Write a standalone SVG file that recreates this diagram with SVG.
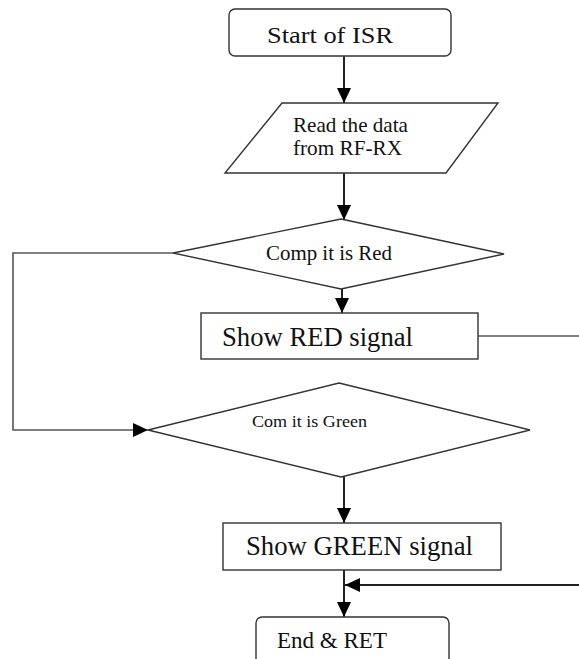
<svg xmlns="http://www.w3.org/2000/svg" width="579" height="659" viewBox="0 0 579 659">
<defs>
<marker id="ah" markerUnits="userSpaceOnUse" markerWidth="16" markerHeight="14" refX="15" refY="7" orient="auto">
<path d="M0,0 L15,7 L0,14 z" fill="#000"/>
</marker>
<style>
.shape{fill:#fff;stroke:#333;stroke-width:1.4}
.conn{fill:none;stroke:#222;stroke-width:2}
.thin{fill:none;stroke:#555;stroke-width:1.6}
text{font-family:"Liberation Serif","Times New Roman",serif;fill:#111}
</style>
</defs>
<rect width="579" height="659" fill="#fff"/>
<g id="connectors">
<line class="conn" x1="344" y1="56" x2="344" y2="103" marker-end="url(#ah)"/>
<line class="conn" x1="344" y1="173" x2="344" y2="220" marker-end="url(#ah)"/>
<line class="conn" x1="342" y1="289" x2="342" y2="313" marker-end="url(#ah)"/>
<polyline class="thin" points="173,253 13,253 13,430 148,430" marker-end="url(#ah)"/>
<line class="thin" x1="478" y1="336" x2="579" y2="336"/>
<line class="conn" x1="344" y1="477" x2="344" y2="523" marker-end="url(#ah)"/>
<line class="conn" x1="344" y1="570" x2="344" y2="617" marker-end="url(#ah)"/>
<line class="conn" x1="579" y1="585" x2="345" y2="585" marker-end="url(#ah)"/>
</g>
<g id="start">
<rect class="shape" x="229" y="9" width="222" height="47" rx="6"/>
<text x="267" y="43" font-size="24" textLength="126" lengthAdjust="spacingAndGlyphs">Start of ISR</text>
</g>
<g id="read">
<polygon class="shape" points="282,103 498,103 446,173 225,173"/>
<text x="293" y="132" font-size="21" textLength="115" lengthAdjust="spacingAndGlyphs">Read the data</text>
<text x="293" y="155" font-size="21" textLength="109" lengthAdjust="spacingAndGlyphs">from RF-RX</text>
</g>
<g id="compRed">
<polygon class="shape" points="341,219 504,254 341,289 173,253"/>
<text x="266" y="260" font-size="20" textLength="126" lengthAdjust="spacingAndGlyphs">Comp it is Red</text>
</g>
<g id="showRed">
<rect class="shape" x="201" y="313" width="277" height="46"/>
<text x="222" y="346" font-size="27" textLength="191" lengthAdjust="spacingAndGlyphs">Show RED signal</text>
</g>
<g id="compGreen">
<polygon class="shape" points="339,383 530,430 341,477 148,430"/>
<text x="252" y="427" font-size="17" textLength="115" lengthAdjust="spacingAndGlyphs">Com it is Green</text>
</g>
<g id="showGreen">
<rect class="shape" x="223" y="523" width="278" height="47"/>
<text x="246" y="555" font-size="27" textLength="227" lengthAdjust="spacingAndGlyphs">Show GREEN signal</text>
</g>
<g id="end">
<rect class="shape" x="256" y="617" width="193" height="60" rx="6"/>
<text x="277" y="648" font-size="24" textLength="110" lengthAdjust="spacingAndGlyphs">End &amp; RET</text>
</g>
</svg>
